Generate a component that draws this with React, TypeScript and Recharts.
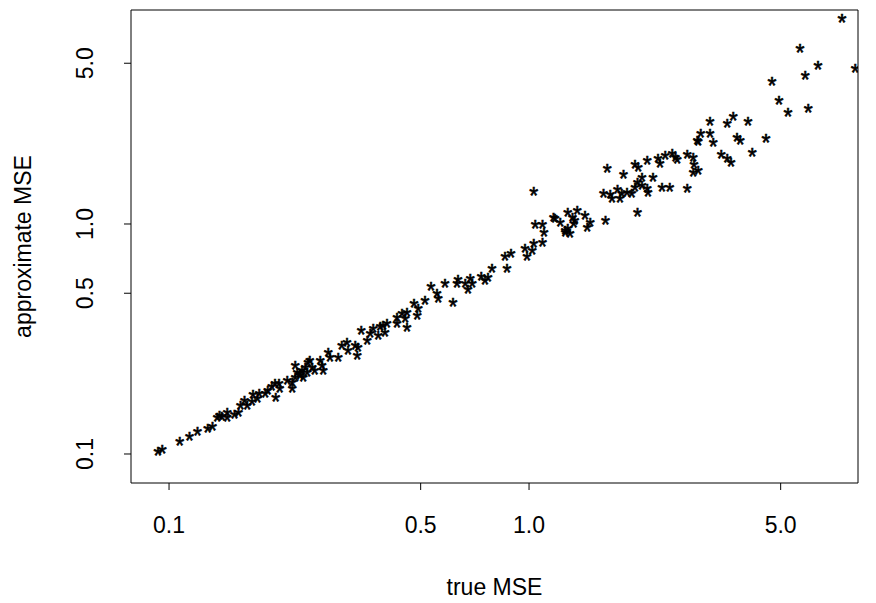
import { ScatterChart, Scatter, XAxis, YAxis, ReferenceArea } from 'recharts';

// true MSE (x) and approximate MSE (y)
const trueMse = [
    0.0932, 0.0957, 0.107, 0.114, 0.120, 0.128, 0.132, 0.136, 0.140, 0.145,
    0.145, 0.138, 0.152, 0.156, 0.158, 0.162, 0.165, 0.170, 0.171, 0.176,
    0.178, 0.185, 0.188, 0.193, 0.197, 0.198, 0.202, 0.203, 0.213, 0.220,
    0.220, 0.224, 0.227, 0.231, 0.236, 0.239, 0.242, 0.243, 0.234, 0.246,
    0.250, 0.254, 0.263, 0.266, 0.268, 0.231, 0.224, 0.277, 0.280, 0.295,
    0.302, 0.312, 0.314, 0.333, 0.335, 0.329, 0.355, 0.342, 0.362, 0.369,
    0.381, 0.386, 0.398, 0.403, 0.393, 0.430, 0.430, 0.444, 0.458, 0.453,
    0.458, 0.489, 0.492, 0.479, 0.514, 0.534, 0.555, 0.559, 0.584, 0.615,
    0.631, 0.635, 0.665, 0.677, 0.686, 0.695, 0.736, 0.755, 0.769, 0.789,
    0.858, 0.891, 0.869, 0.975, 0.987, 1.02, 1.03, 1.09, 1.03, 1.04,
    1.09, 1.10, 1.17, 1.18, 1.22, 1.28, 1.26, 1.28, 1.32, 1.36,
    1.34, 1.43, 1.48, 1.45, 1.26, 1.30, 1.33, 1.63, 2.00, 1.61,
    1.68, 1.70, 1.76, 1.79, 1.81, 1.87, 1.93, 1.97, 2.00, 2.06,
    2.06, 2.13, 2.14, 2.21, 2.34, 2.46, 2.75, 1.65, 1.83, 1.97,
    2.01, 2.13, 2.28, 2.31, 2.39, 2.50, 2.55, 2.58, 2.75, 2.86,
    2.87, 2.86, 2.95, 2.93, 4.95, 5.24, 3.18, 3.69, 3.55, 4.06,
    3.00, 3.18, 2.95, 3.25, 3.78, 3.86, 4.55, 4.17, 3.42, 3.55,
    3.64, 7.40, 5.66, 6.35, 8.05, 5.85, 4.73, 5.96,
];

const approxMse = [
    0.103, 0.105, 0.114, 0.120, 0.125, 0.130, 0.132, 0.145, 0.146, 0.152,
    0.145, 0.148, 0.149, 0.152, 0.163, 0.172, 0.163, 0.170, 0.181, 0.175,
    0.184, 0.184, 0.190, 0.196, 0.204, 0.177, 0.204, 0.194, 0.210, 0.206,
    0.194, 0.244, 0.227, 0.225, 0.216, 0.239, 0.227, 0.251, 0.232, 0.256,
    0.239, 0.232, 0.256, 0.244, 0.232, 0.221, 0.216, 0.278, 0.264, 0.264,
    0.298, 0.307, 0.283, 0.269, 0.292, 0.298, 0.313, 0.346, 0.336, 0.353,
    0.329, 0.360, 0.339, 0.371, 0.364, 0.371, 0.394, 0.410, 0.414, 0.390,
    0.357, 0.402, 0.431, 0.454, 0.467, 0.538, 0.501, 0.477, 0.554, 0.458,
    0.554, 0.577, 0.554, 0.522, 0.582, 0.554, 0.594, 0.571, 0.588, 0.644,
    0.726, 0.748, 0.644, 0.787, 0.726, 0.771, 0.827, 0.835, 1.39, 1.00,
    1.00, 0.923, 1.07, 1.06, 1.02, 1.12, 0.923, 0.961, 1.07, 1.15,
    1.04, 1.09, 1.02, 0.970, 0.942, 0.914, 1.01, 1.04, 1.13, 1.36,
    1.34, 1.30, 1.41, 1.30, 1.36, 1.38, 1.36, 1.45, 1.52, 1.59,
    1.48, 1.43, 1.38, 1.60, 1.45, 1.45, 1.43, 1.75, 1.65, 1.81,
    1.77, 1.90, 1.94, 1.84, 1.98, 2.02, 1.96, 1.92, 2.00, 1.96,
    1.82, 1.68, 1.72, 2.32, 3.46, 3.07, 2.80, 2.95, 2.75, 2.80,
    2.49, 2.49, 2.30, 2.27, 2.39, 2.32, 2.37, 2.06, 2.00, 1.94,
    1.86, 7.87, 5.83, 4.91, 4.77, 4.44, 4.19, 3.19,
];

const xTicks = [0.1, 0.5, 1, 5];
const yTicks = [0.1, 0.5, 1, 5];
const xDomain = [0.0784, 8.2];
const yDomain = [0.0748, 8.52];

const points = trueMse.map((x, i) => ({ x, y: approxMse[i] }));

const FONT = '"Liberation Sans", Arial, Helvetica, sans-serif';
const FS = 23;

// R's pch="*" is centred on the point, the svg glyph sits high, so push it down
const Star = (props: any) => (
    <text
        x={props.cx}
        y={props.cy + FS * 0.553}
        textAnchor="middle"
        fontFamily={FONT}
        fontSize={FS}
        fill="#000"
        stroke="#000"
        strokeWidth={0.6}
    >
        *
    </text>
);

const XTick = ({ x, y, payload }: any) => (
    <text x={x} y={y + 43} textAnchor="middle" fontFamily={FONT} fontSize={FS} fill="#000">
        {payload.value.toFixed(1)}
    </text>
);

const YTick = ({ y, payload }: any) => {
    const bx = 93;
    return (
        <text x={bx} y={y} transform={`rotate(-90, ${bx}, ${y})`} textAnchor="middle" fontFamily={FONT} fontSize={FS} fill="#000">
            {payload.value.toFixed(1)}
        </text>
    );
};

export default function App() {
    return (
        <div style={{ position: 'absolute', left: 0, top: 0, background: '#fff' }}>
            <ScatterChart width={876} height={603} margin={{ top: 10, right: 18, bottom: 0, left: 0 }}>
                <XAxis
                    type="number"
                    dataKey="x"
                    scale="log"
                    domain={xDomain}
                    allowDataOverflow
                    ticks={xTicks}
                    interval={0}
                    height={120}
                    axisLine={false}
                    tickLine={{ stroke: '#000' }}
                    tickSize={7}
                    tickMargin={0}
                    tick={<XTick />}
                    label={{
                        content: ({ viewBox }: any) => (
                            <text x={viewBox.x + viewBox.width / 2} y={viewBox.y + 112} textAnchor="middle" fontFamily={FONT} fontSize={FS} fill="#000">
                                true MSE
                            </text>
                        ),
                    }}
                />
                <YAxis
                    type="number"
                    dataKey="y"
                    scale="log"
                    domain={yDomain}
                    allowDataOverflow
                    ticks={yTicks}
                    interval={0}
                    width={131}
                    axisLine={false}
                    tickLine={{ stroke: '#000' }}
                    tickSize={7}
                    tickMargin={0}
                    tick={<YTick />}
                    label={{
                        content: ({ viewBox }: any) => {
                            const cx = 31;
                            const cy = viewBox.y + viewBox.height / 2;
                            return (
                                <text x={cx} y={cy} transform={`rotate(-90, ${cx}, ${cy})`} textAnchor="middle" fontFamily={FONT} fontSize={FS} fill="#000">
                                    approximate MSE
                                </text>
                            );
                        },
                    }}
                />
                <ReferenceArea
                    x1={xDomain[0]}
                    x2={xDomain[1]}
                    y1={yDomain[0]}
                    y2={yDomain[1]}
                    fill="none"
                    stroke="#000"
                    strokeWidth={1}
                    ifOverflow="visible"
                />
                <Scatter data={points} shape={<Star />} isAnimationActive={false} />
            </ScatterChart>
        </div>
    );
}
